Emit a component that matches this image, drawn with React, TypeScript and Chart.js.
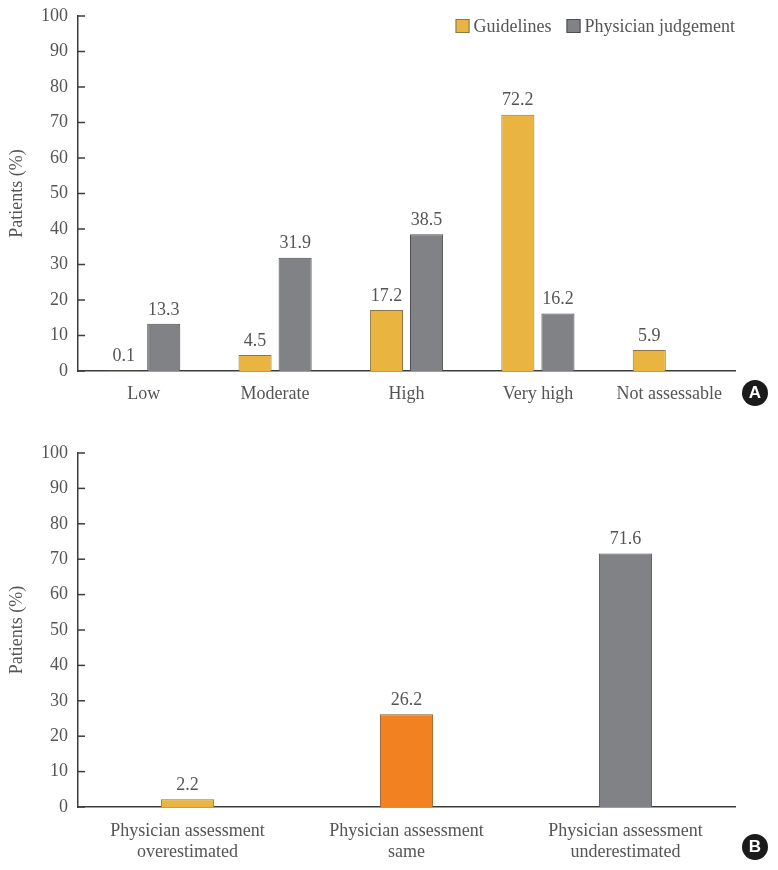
import React, { useEffect, useRef } from "react";
import { Chart, registerables } from "chart.js";

Chart.register(...registerables);

const riskCategories = ["Low", "Moderate", "High", "Very high", "Not assessable"];
const guidelineValues = [0.1, 4.5, 17.2, 72.2, 5.9];
const physicianValues = [13.3, 31.9, 38.5, 16.2, null];
const seriesNames = ["Guidelines", "Physician judgement"];

const comparisonCategories = [
  ["Physician assessment", "overestimated"],
  ["Physician assessment", "same"],
  ["Physician assessment", "underestimated"],
];
const comparisonValues = [2.2, 26.2, 71.6];

const yTickValues = [0, 10, 20, 30, 40, 50, 60, 70, 80, 90, 100];

const YELLOW = "#EAB440";
const GREY = "#808285";
const ORANGE = "#F28221";
const TEXT = "#555555";
const AXIS = "#3c3c3c";
const FONT = "'Liberation Serif', 'Times New Roman', serif";

const valueLabelPlugin = {
  id: "valueLabels",
  afterDatasetsDraw(chart: any) {
    const ctx = chart.ctx;
    ctx.save();
    ctx.font = `18px ${FONT}`;
    ctx.fillStyle = TEXT;
    ctx.textAlign = "center";
    ctx.textBaseline = "bottom";
    chart.data.datasets.forEach((ds: any, di: number) => {
      const meta = chart.getDatasetMeta(di);
      meta.data.forEach((el: any, i: number) => {
        const v = ds.data[i];
        if (v === null || v === undefined) return;
        ctx.fillText(Number(v).toFixed(1), el.x, el.y - 5);
      });
    });
    ctx.restore();
  },
};

const innerTicksPlugin = {
  id: "innerTicks",
  afterDraw(chart: any) {
    const ctx = chart.ctx;
    const y = chart.scales.y;
    const left = chart.chartArea.left;
    ctx.save();
    ctx.strokeStyle = AXIS;
    ctx.lineWidth = 1.5;
    y.ticks.forEach((t: any) => {
      const py = y.getPixelForValue(t.value);
      ctx.beginPath();
      ctx.moveTo(left, py);
      ctx.lineTo(left + 7, py);
      ctx.stroke();
    });
    ctx.restore();
  },
};

const legendPlugin = {
  id: "customLegend",
  afterDraw(chart: any) {
    if (!chart.options.plugins.customLegend?.show) return;
    const ctx = chart.ctx;
    const { right, top } = chart.chartArea;
    ctx.save();
    ctx.font = `18px ${FONT}`;
    ctx.textBaseline = "middle";
    ctx.textAlign = "left";
    const cy = top + 10;
    let x = right;
    const items = chart.data.datasets.slice().reverse();
    items.forEach((ds: any) => {
      const w = ctx.measureText(ds.label).width;
      const textX = x - w;
      const boxX = textX - 4 - 14;
      ctx.fillStyle = ds.backgroundColor;
      ctx.fillRect(boxX, cy - 7, 14, 14);
      ctx.strokeStyle = ds.borderColor;
      ctx.lineWidth = 1;
      ctx.strokeRect(boxX + 0.5, cy - 6.5, 13, 13);
      ctx.fillStyle = TEXT;
      ctx.fillText(ds.label, textX, cy + 1);
      x = boxX - 15;
    });
    ctx.restore();
  },
};

function yScale(width: number) {
  return {
    min: 0,
    max: 100,
    afterFit(scale: any) {
      scale.width = width;
      scale.paddingTop = 0;
      scale.paddingBottom = 0;
    },
    afterBuildTicks(scale: any) {
      scale.ticks = yTickValues.map((v) => ({ value: v }));
    },
    grid: { display: false, drawTicks: false },
    border: { display: true, color: AXIS, width: 1.5 },
    ticks: {
      color: TEXT,
      font: { family: FONT, size: 18 },
      padding: 10,
    },
    title: {
      display: true,
      text: "Patients (%)",
      color: TEXT,
      font: { family: FONT, size: 18 },
      padding: { top: 6, bottom: 0 },
    },
  };
}

function xScale(height: number, padding: number) {
  return {
    afterFit(scale: any) {
      scale.height = height;
    },
    grid: { display: false, drawTicks: false },
    border: { display: true, color: AXIS, width: 1.5 },
    ticks: {
      color: TEXT,
      font: { family: FONT, size: 18, lineHeight: 1.2 },
      padding: padding,
      maxRotation: 0,
      autoSkip: false,
    },
  };
}

function ChartA() {
  const ref = useRef<HTMLCanvasElement>(null);
  useEffect(() => {
    const chart = new Chart(ref.current as HTMLCanvasElement, {
      type: "bar",
      data: {
        labels: riskCategories,
        datasets: [
          {
            label: seriesNames[0],
            data: guidelineValues,
            backgroundColor: YELLOW,
            borderColor: "#8a7748",
            borderWidth: 1,
          },
          {
            label: seriesNames[1],
            data: physicianValues,
            backgroundColor: GREY,
            borderColor: "#4e4e4e",
            borderWidth: 1,
          },
        ],
      },
      options: {
        responsive: false,
        animation: false,
        layout: { padding: { top: 16, right: 43, left: 0, bottom: 0 } },
        datasets: { bar: { categoryPercentage: 0.61, barPercentage: 0.825 } },
        plugins: {
          legend: { display: false },
          tooltip: { enabled: false },
          customLegend: { show: true },
        } as any,
        scales: { x: xScale(49, 12), y: yScale(78) } as any,
      },
      plugins: [valueLabelPlugin, innerTicksPlugin, legendPlugin],
    });
    return () => chart.destroy();
  }, []);
  return (
    <canvas
      ref={ref}
      width={778}
      height={420}
      style={{ position: "absolute", left: 0, top: 0, width: 778, height: 420 }}
    />
  );
}

function ChartB() {
  const ref = useRef<HTMLCanvasElement>(null);
  useEffect(() => {
    const chart = new Chart(ref.current as HTMLCanvasElement, {
      type: "bar",
      data: {
        labels: comparisonCategories as any,
        datasets: [
          {
            label: "Patients",
            data: comparisonValues,
            backgroundColor: [YELLOW, ORANGE, GREY],
            borderColor: ["#8a7748", "#8f5a2c", "#4e4e4e"],
            borderWidth: 1,
          },
        ],
      },
      options: {
        responsive: false,
        animation: false,
        layout: { padding: { top: 33, right: 43, left: 0, bottom: 0 } },
        datasets: { bar: { categoryPercentage: 1, barPercentage: 0.243 } },
        plugins: {
          legend: { display: false },
          tooltip: { enabled: false },
        },
        scales: { x: xScale(63, 13), y: yScale(78) } as any,
      },
      plugins: [valueLabelPlugin, innerTicksPlugin],
    });
    return () => chart.destroy();
  }, []);
  return (
    <canvas
      ref={ref}
      width={778}
      height={450}
      style={{ position: "absolute", left: 0, top: 420, width: 778, height: 450 }}
    />
  );
}

function Badge({ letter, x, y }: { letter: string; x: number; y: number }) {
  return (
    <div
      style={{
        position: "absolute",
        left: x - 13,
        top: y - 13,
        width: 26,
        height: 26,
        borderRadius: "50%",
        background: "#1b1b1b",
        color: "#fff",
        fontFamily: "'Liberation Sans', Arial, sans-serif",
        fontWeight: 700,
        fontSize: 17,
        lineHeight: "26px",
        textAlign: "center",
      }}
    >
      {letter}
    </div>
  );
}

export default function App() {
  return (
    <div
      style={{
        position: "absolute",
        left: 0,
        top: 0,
        width: 778,
        height: 870,
        background: "#fff",
        overflow: "hidden",
      }}
    >
      <ChartA />
      <ChartB />
      <Badge letter="A" x={755} y={393} />
      <Badge letter="B" x={755} y={847} />
    </div>
  );
}
